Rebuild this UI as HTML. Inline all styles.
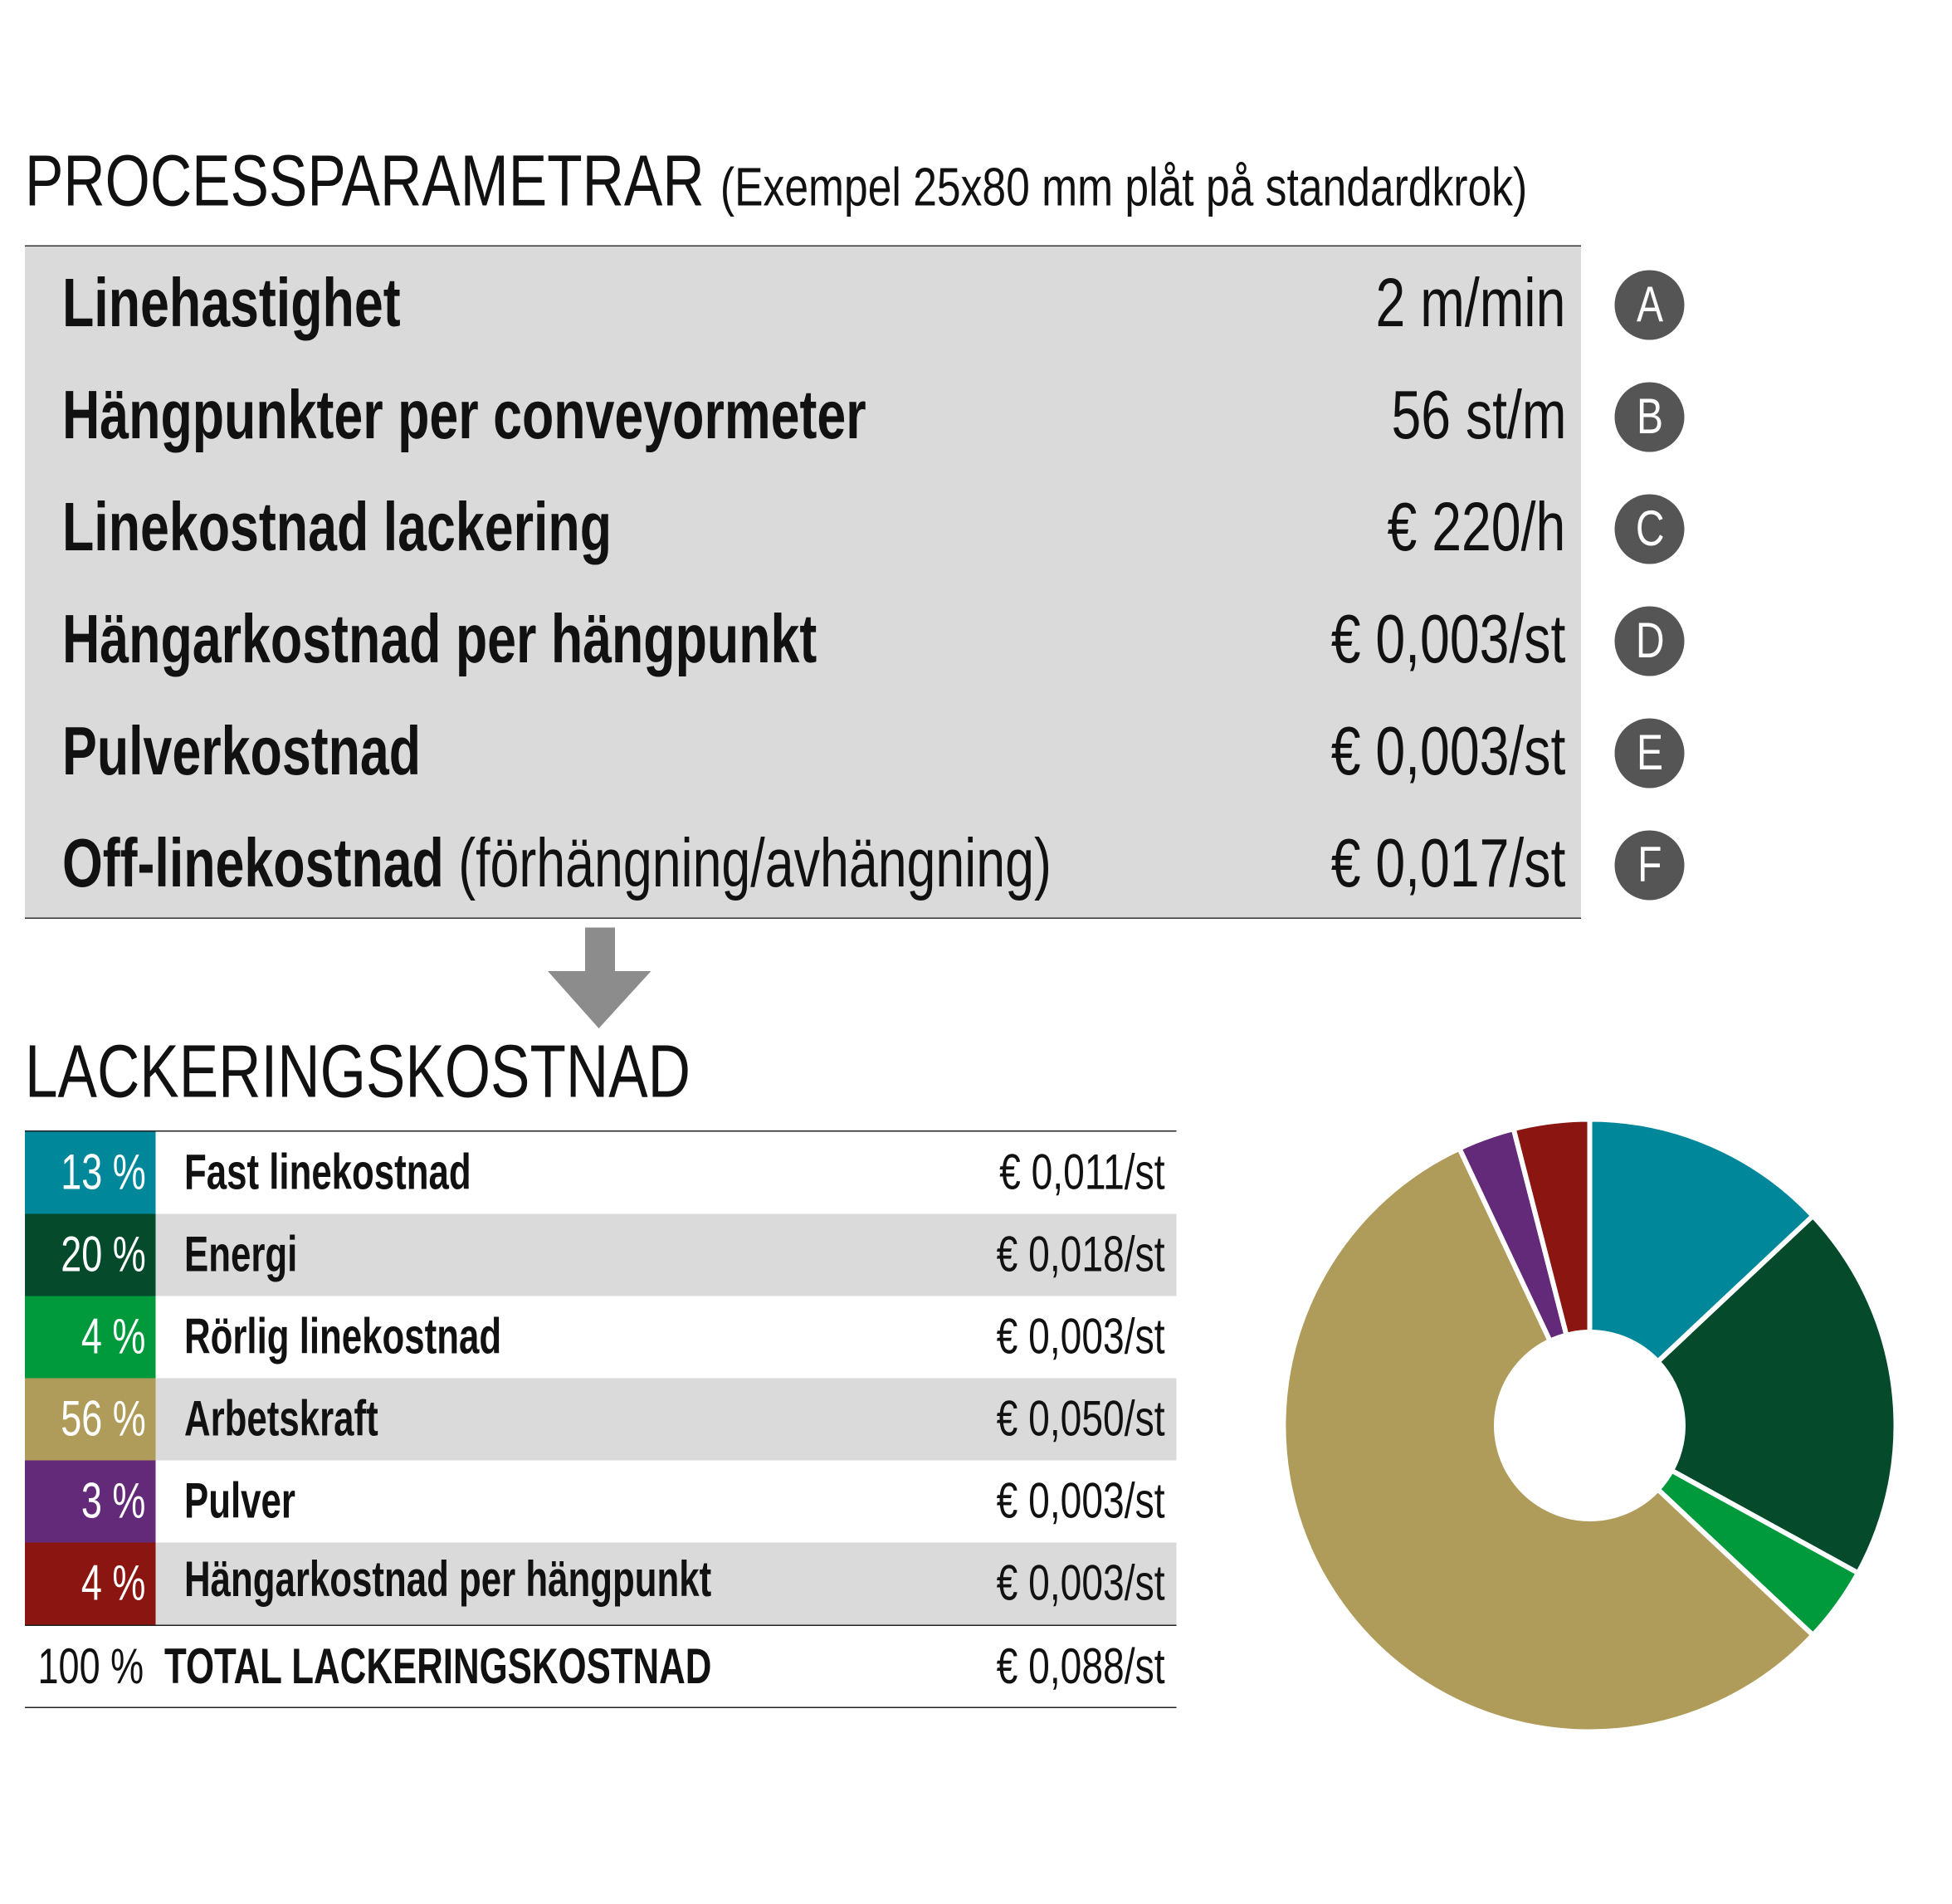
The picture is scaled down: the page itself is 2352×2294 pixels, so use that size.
<!DOCTYPE html>
<html><head><meta charset="utf-8"><style>
html,body{margin:0;padding:0;background:#fff;width:2352px;height:2293px;overflow:hidden}
#w{position:absolute;left:0;top:0;width:1568px;height:1529px;transform:scale(1.5);transform-origin:0 0;font-family:"Liberation Sans",sans-serif;color:#111}
.a{position:absolute;white-space:nowrap}
.s{display:inline-block;transform-origin:0 50%}
.r{display:inline-block;transform-origin:100% 50%}
.lab{font-weight:bold;font-size:55px;left:50px}
.lab .s{transform:scaleX(.76)}
.val{font-size:55px;right:310px;text-align:right}
.val .r{transform:scaleX(.78)}
.c{position:absolute;left:1297px;width:56px;height:56px;border-radius:50%;background:#555;color:#fff;font-size:40px;text-align:center;line-height:56px}
.c span{display:inline-block;transform:scaleX(.8)}
.row{position:absolute;left:20px;width:925px;height:66px;white-space:nowrap}
.pc{position:absolute;left:0;width:105px;height:66px;color:#fff;font-size:40px;text-align:right;box-sizing:border-box;padding-right:8px;line-height:66px}
.pc span{display:inline-block;transform:scaleX(.75);transform-origin:100% 50%}
.rl{position:absolute;left:128px;font-weight:bold;font-size:40px;line-height:66px}
.rl span{display:inline-block;transform:scaleX(.73);transform-origin:0 50%}
.rv{position:absolute;right:9px;font-size:40px;line-height:66px}
.rv span{display:inline-block;transform:scaleX(.77);transform-origin:100% 50%}
.g{background:#dadada}
</style></head><body><div id="w">
<div class="a" style="left:20px;top:112px;font-size:58px"><span class="s" style="transform:scaleX(.8)">PROCESSPARAMETRAR <span style="font-size:43px">(Exempel 25x80 mm plåt på standardkrok)</span></span></div>
<div class="a" style="left:20px;top:197px;width:1250px;height:539px;background:#dadada;border-top:1.5px solid #333;border-bottom:1.5px solid #333"></div>
<div class="a lab" style="top:211px"><span class="s">Linehastighet</span></div><div class="a val" style="top:211px"><span class="r">2 m/min</span></div><div class="c" style="top:217px"><span>A</span></div>
<div class="a lab" style="top:301px"><span class="s">Hängpunkter per conveyormeter</span></div><div class="a val" style="top:301px"><span class="r">56 st/m</span></div><div class="c" style="top:307px"><span>B</span></div>
<div class="a lab" style="top:391px"><span class="s">Linekostnad lackering</span></div><div class="a val" style="top:391px"><span class="r">€ 220/h</span></div><div class="c" style="top:397px"><span>C</span></div>
<div class="a lab" style="top:481px"><span class="s">Hängarkostnad per hängpunkt</span></div><div class="a val" style="top:481px"><span class="r">€ 0,003/st</span></div><div class="c" style="top:487px"><span>D</span></div>
<div class="a lab" style="top:571px"><span class="s">Pulverkostnad</span></div><div class="a val" style="top:571px"><span class="r">€ 0,003/st</span></div><div class="c" style="top:577px"><span>E</span></div>
<div class="a lab" style="top:661px"><span class="s">Off-linekostnad <span style="font-weight:normal">(förhängning/avhängning)</span></span></div><div class="a val" style="top:661px"><span class="r">€ 0,017/st</span></div><div class="c" style="top:667px"><span>F</span></div>
<svg class="a" style="left:0;top:0" width="1568" height="1529">
<rect x="470" y="745" width="24" height="40" fill="#8c8c8c"/><polygon points="440,780 523,780 481,826" fill="#8c8c8c"/>
<g stroke="#fff" stroke-width="4" stroke-linejoin="round">
<path d="M1277,899 A246,246 0 0 1 1456.3,976.6 L1331.7,1093.7 A75,75 0 0 0 1277,1070 Z" fill="#00879a"/>
<path d="M1456.3,976.6 A246,246 0 0 1 1492.6,1263.5 L1342.7,1181.1 A75,75 0 0 0 1331.7,1093.7 Z" fill="#044a2b"/>
<path d="M1492.6,1263.5 A246,246 0 0 1 1456.3,1313.4 L1331.7,1196.3 A75,75 0 0 0 1342.7,1181.1 Z" fill="#009a3d"/>
<path d="M1456.3,1313.4 A246,246 0 1 1 1172.3,922.4 L1245.1,1077.1 A75,75 0 1 0 1331.7,1196.3 Z" fill="#b09c5a"/>
<path d="M1172.3,922.4 A246,246 0 0 1 1215.8,906.7 L1258.3,1072.4 A75,75 0 0 0 1245.1,1077.1 Z" fill="#622a78"/>
<path d="M1215.8,906.7 A246,246 0 0 1 1277,899 L1277,1070 A75,75 0 0 0 1258.3,1072.4 Z" fill="#8b1510"/>
</g></svg>
<div class="a" style="left:20px;top:826px;font-size:60px"><span class="s" style="transform:scaleX(.79)">LACKERINGSKOSTNAD</span></div>
<div class="a" style="left:20px;top:908px;width:925px;border-top:1.5px solid #222"></div>
<div class="row" style="top:909px"><div class="pc" style="background:#00879a"><span>13 %</span></div><div class="rl"><span>Fast linekostnad</span></div><div class="rv"><span>€ 0,011/st</span></div></div>
<div class="row g" style="top:975px"><div class="pc" style="background:#044a2b"><span>20 %</span></div><div class="rl"><span>Energi</span></div><div class="rv"><span>€ 0,018/st</span></div></div>
<div class="row" style="top:1041px"><div class="pc" style="background:#009a3d"><span>4 %</span></div><div class="rl"><span>Rörlig linekostnad</span></div><div class="rv"><span>€ 0,003/st</span></div></div>
<div class="row g" style="top:1107px"><div class="pc" style="background:#b09c5a"><span>56 %</span></div><div class="rl"><span>Arbetskraft</span></div><div class="rv"><span>€ 0,050/st</span></div></div>
<div class="row" style="top:1173px"><div class="pc" style="background:#622a78"><span>3 %</span></div><div class="rl"><span>Pulver</span></div><div class="rv"><span>€ 0,003/st</span></div></div>
<div class="row g" style="top:1239px"><div class="pc" style="background:#8b1510"><span>4 %</span></div><div class="rl" style="line-height:60px"><span>Hängarkostnad per hängpunkt</span></div><div class="rv"><span>€ 0,003/st</span></div></div>
<div class="a" style="left:20px;top:1305px;width:925px;border-top:1.5px solid #222"></div>
<div class="row" style="top:1306px"><div class="pc" style="color:#111;left:-40px;width:135px;padding-right:0;white-space:nowrap"><span>100 %</span></div><div class="rl" style="left:112px"><span>TOTAL LACKERINGSKOSTNAD</span></div><div class="rv"><span>€ 0,088/st</span></div></div>
<div class="a" style="left:20px;top:1371px;width:925px;border-top:1.5px solid #222"></div>
</div></body></html>
